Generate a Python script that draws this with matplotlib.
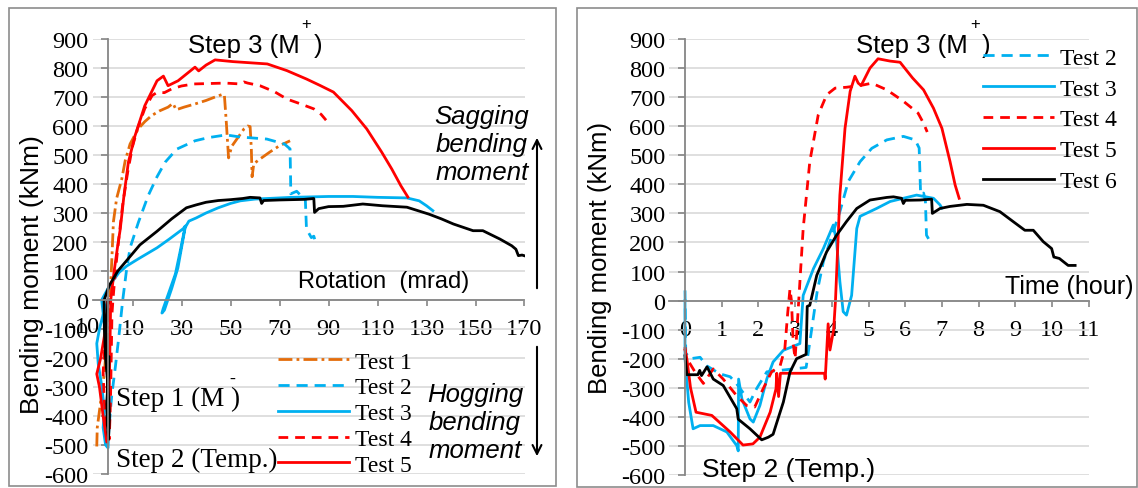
import matplotlib
matplotlib.use("Agg")
import matplotlib.pyplot as plt
from matplotlib.patches import Rectangle

plt.rcParams["axes.unicode_minus"] = False
plt.rcParams["lines.scale_dashes"] = False

W, H = 1138, 489
SANS = "Liberation Sans"
SERIF = "Liberation Serif"

# ---- rotation (mrad) vs moment (kNm) ----
rot_t1 = [-4.6, -4.4, -3.0, -1.5, 0.8, 1.5, 2.2, 3.5, 5.6, 7.0, 9.0, 12.3, 15.0, 17.8, 21.0, 24.5, 26.5,
          27.8, 31.0, 35.5, 40.0, 43.7, 47.0, 47.5, 48.3, 49.2, 50.5, 53.0, 55.5, 57.0, 58.0, 58.5, 58.8,
          59.5, 62.0, 66.0, 70.0, 74.3]
mom_t1 = [-505, -440, -350, -250, 0, 130, 270, 350, 417, 480, 538, 590, 615, 636, 652, 665, 678,
          656, 665, 676, 688, 700, 710, 706, 610, 490, 530, 560, 590, 600, 598, 520, 425,
          470, 486, 510, 532, 549]

rot_t2 = [0.5, 1.5, 3.0, 4.5, 6.0, 7.5, 9.0, 12.4, 16.4, 20.0, 23.3, 28.0, 35.5, 41.0, 46.4, 48.4, 54.0,
          64.8, 72.0, 74.3, 74.5, 74.6, 77.0, 78.5, 80.5, 81.0, 83.0, 84.0, 85.0]
mom_t2 = [-430, -330, -230, -120, 0, 100, 180, 268, 360, 425, 475, 520, 549, 560, 567, 569, 562,
          555, 538, 521, 430, 366, 375, 362, 355, 245, 215, 220, 190]

rot_t3 = [0.0, -2.0, -3.5, -4.6, -4.0, -2.5, -1.5, -2.0, -1.0, 0.0, 0.5, 0.3, -1.0, -2.6, 0.0, 2.0, 4.5,
          7.6, 12.0, 16.0, 20.0, 25.0, 30.7, 31.5, 29.5, 27.5, 25.0, 22.5, 22.0, 23.0, 26.0, 28.5, 30.0,
          31.5, 33.0, 36.0, 40.0, 45.0, 50.0, 54.0, 60.0, 65.0, 75.0, 90.0, 100.0, 110.0, 122.0, 127.0,
          130.0, 132.6]
mom_t3 = [0, -50, -100, -150, -220, -300, -380, -440, -500, -510, -420, -250, -120, 0, 40, 66, 95,
          117, 140, 160, 180, 210, 246, 255, 170, 90, 30, -30, -45, -35, 40, 110, 180,
          250, 272, 283, 300, 318, 333, 342, 348, 350, 354, 357, 357, 354, 352, 342,
          325, 308]

rot_t4 = [0.0, -1.0, -2.0, -1.5, -0.5, 0.5, 1.0, 1.3, 1.6, 2.0, 3.0, 4.5, 6.0, 8.0, 10.0, 12.0, 15.0,
          18.0, 20.0, 23.0, 26.0, 30.0, 35.0, 47.8, 54.0, 55.5, 57.0, 62.0, 68.0, 73.0, 78.0, 84.0,
          87.0, 89.0]
mom_t4 = [0, -120, -250, -350, -450, -480, -350, -200, -50, 0, 100, 220, 330, 440, 530, 590, 660,
          705, 716, 715, 728, 738, 745, 748, 745, 752, 748, 739, 718, 693, 678, 659,
          640, 620]

rot_t5 = [0.0, -1.0, -3.0, -4.6, -3.5, -2.0, -0.5, 0.3, 0.5, 0.8, 1.1, 2.5, 4.0, 5.0, 6.5, 8.3, 11.0,
          15.0, 20.0, 22.6, 24.5, 28.6, 35.5, 37.0, 40.0, 43.7, 51.0, 65.0, 73.0, 81.0, 86.5, 92.0,
          99.5, 105.6, 111.7, 115.8, 119.6, 122.4]
mom_t5 = [0, -100, -200, -255, -300, -400, -490, -440, -300, -150, 0, 100, 190, 245, 360, 475, 566,
          670, 756, 772, 739, 756, 803, 790, 810, 828, 822, 814, 791, 762, 740, 717,
          653, 590, 510, 452, 393, 355]

rot_t6 = [0.0, -0.8, -0.5, 0.4, 0.2, -0.5, -0.3, 0.2, 0.6, 0.0, -1.0, -1.5, -1.6, 0.5, 4.0, 8.0, 13.0,
          20.0, 26.0, 32.0, 36.0, 40.0, 45.0, 50.0, 55.0, 58.0, 62.0, 62.7, 63.5, 70.0, 80.0, 84.0,
          84.3, 86.0, 90.0, 96.0, 104.0, 112.0, 122.0, 131.0, 136.0, 141.0, 149.0, 153.0, 160.0, 164.8,
          166.5, 167.5, 169.0, 171.0]
mom_t6 = [0, -100, -200, -195, -260, -350, -430, -480, -400, -300, -200, -100, 0, 50, 100, 140, 190,
          237, 280, 318, 328, 337, 343, 346, 350, 354, 352, 333, 343, 345, 347, 350,
          302, 315, 322, 323, 331, 325, 320, 296, 280, 262, 239, 239, 210, 187,
          175, 153, 155, 150]

# ---- time (hour) vs moment (kNm) ----
hr_t2 = [0.0, 0.02, 0.14, 0.41, 0.6, 0.95, 1.23, 1.4, 1.77, 1.95, 2.23, 2.59, 2.95, 3.3, 3.45, 3.6,
         3.77, 3.95, 4.22, 4.45, 4.77, 5.09, 5.5, 5.95, 6.27, 6.38, 6.42, 6.5, 6.55, 6.58, 6.68]
hm_t2 = [35, -180, -200, -195, -225, -252, -262, -285, -349, -303, -245, -240, -235, -230, -100, 30,
         134, 203, 306, 410, 478, 524, 553, 565, 553, 525, 365, 370, 345, 225, 203]

hr_t3 = [0.0, 0.0, 0.1, 0.22, 0.41, 0.77, 1.14, 1.41, 1.45, 1.46, 1.55, 1.77, 1.86, 2.04, 2.23, 2.4,
         2.68, 3.13, 3.22, 3.5, 3.77, 4.04, 4.13, 4.22, 4.31, 4.4, 4.54, 4.68, 4.77, 5.22, 5.59, 6.31,
         6.77, 6.95, 7.0]
hm_t3 = [0, -200, -350, -441, -430, -430, -452, -499, -517, -270, -338, -407, -418, -361, -269, -211,
         -171, -148, 18, 110, 179, 260, 203, 65, -38, -50, 18, 248, 290, 317, 341, 363,
         352, 329, 318]

hr_t4 = [0.0, 0.03, 0.27, 0.5, 0.77, 1.04, 1.4, 1.68, 1.9, 2.13, 2.36, 2.59, 2.72, 2.8, 2.86, 2.9,
         2.95, 3.0, 3.05, 3.22, 3.4, 3.63, 3.86, 4.09, 4.4, 4.86, 5.09, 5.5, 5.95, 6.35, 6.5, 6.6]
hm_t4 = [-160, -195, -245, -285, -235, -270, -326, -361, -366, -303, -245, -225, -165, -40, 40, 0,
         -150, -200, -100, 248, 478, 639, 708, 731, 734, 742, 748, 725, 686, 645, 610, 580]

hr_t5 = [0.0, 0.05, 0.15, 0.3, 0.73, 1.23, 1.58, 1.85, 2.04, 2.32, 2.48, 2.5, 2.55, 2.6, 3.8, 3.82,
         3.9, 3.95, 4.05, 4.1, 4.22, 4.36, 4.5, 4.63, 4.72, 4.8, 5.04, 5.26, 5.59, 5.86, 6.2, 6.5,
         6.77, 7.0, 7.22, 7.36, 7.47]
hm_t5 = [-170, -200, -300, -384, -395, -452, -497, -493, -470, -384, -303, -250, -330, -250, -250, -270,
         -80, -170, -100, 0, 363, 593, 720, 772, 748, 740, 800, 832, 824, 820, 766, 725,
         662, 593, 479, 398, 352]

hr_t6 = [0.0, 0.05, 0.35, 0.4, 0.45, 0.6, 0.77, 1.04, 1.41, 1.45, 1.77, 2.09, 2.27, 2.4, 2.5, 2.68,
         2.86, 3.04, 3.3, 3.33, 3.4, 3.59, 3.86, 4.13, 4.4, 4.68, 5.04, 5.5, 5.68, 5.9, 5.95, 6.0,
         6.4, 6.72, 6.74, 6.95, 7.22, 7.68, 8.13, 8.58, 8.94, 9.26, 9.49, 9.76, 9.99, 10.05, 10.2,
         10.44, 10.63]
hm_t6 = [-190, -255, -255, -240, -258, -228, -270, -292, -372, -408, -441, -479, -470, -460, -420, -349,
         -246, -200, -185, -20, -16, 87, 168, 225, 272, 317, 346, 355, 357, 352, 334, 345,
         346, 349, 300, 317, 324, 331, 328, 306, 272, 242, 242, 203, 179, 150, 145,
         121, 121]

y_ticks = list(range(-600, 901, 100))
rot_ticks = list(range(10, 171, 20))
hr_ticks = list(range(0, 12))

ORANGE = "#e46c0a"
BLUE = "#00b0f0"
RED = "#ff0000"

styles = {
    "Test 1": dict(color=ORANGE, dashes=[10, 3, 2, 3]),
    "Test 2": dict(color=BLUE, dashes=[8, 5]),
    "Test 3": dict(color=BLUE),
    "Test 4": dict(color=RED, dashes=[7, 5]),
    "Test 5": dict(color=RED),
    "Test 6": dict(color="black"),
}
LW = 2.0
TICK_SIZE = 17.5


def fx(px):
    return px / W


def fy(py):
    return 1 - py / H


def style_axes(ax):
    for s in ("top", "right"):
        ax.spines[s].set_visible(False)
    for s in ("left", "bottom"):
        ax.spines[s].set_position(("data", 0))
        ax.spines[s].set_color("#868686")
        ax.spines[s].set_linewidth(1.3)
    ax.set_ylim(-600, 900)
    ax.set_yticks(y_ticks)
    ax.yaxis.grid(True, color="#d9d9d9", lw=1.2)
    ax.set_axisbelow(True)
    ax.tick_params(axis="y", direction="out", length=5, width=1.2, color="#868686", pad=9,
                   labelsize=TICK_SIZE)
    ax.tick_params(axis="x", direction="out", length=4, width=1.2, color="#868686", pad=9,
                   labelsize=TICK_SIZE)
    for lab in ax.get_xticklabels() + ax.get_yticklabels():
        lab.set_fontfamily(SERIF)


fig = plt.figure(figsize=(W / 100, H / 100), dpi=100)

# left: moment vs rotation
ax1 = fig.add_axes([fx(92.6), fy(475), fx(524.5) - fx(92.6), fy(40) - fy(475)])
ax1.set_xlim(-6.3, 170)
ax1.set_xticks(rot_ticks)
h1 = []
for name, xs, ys in [("Test 1", rot_t1, mom_t1), ("Test 2", rot_t2, mom_t2),
                     ("Test 3", rot_t3, mom_t3), ("Test 4", rot_t4, mom_t4),
                     ("Test 5", rot_t5, mom_t5)]:
    ln, = ax1.plot(xs, ys, lw=LW, label=name, **styles[name])
    h1.append(ln)
ax1.plot(rot_t6, mom_t6, lw=LW, **styles["Test 6"])
style_axes(ax1)
# first rotation tick sits left of the plotting area
ax1.text(-10, -92, "-10", ha="center", va="center", fontsize=TICK_SIZE, family=SERIF,
         clip_on=False)

# right: moment vs time
ax2 = fig.add_axes([fx(668.5), fy(476), fx(1088.7) - fx(668.5), fy(40) - fy(476)])
ax2.set_xlim(-0.45, 11)
ax2.set_xticks(hr_ticks)
h2 = []
for name, xs, ys in [("Test 2", hr_t2, hm_t2), ("Test 3", hr_t3, hm_t3),
                     ("Test 4", hr_t4, hm_t4), ("Test 5", hr_t5, hm_t5),
                     ("Test 6", hr_t6, hm_t6)]:
    ln, = ax2.plot(xs, ys, lw=LW, label=name, **styles[name])
    h2.append(ln)
style_axes(ax2)

# legends
leg_kw = dict(loc="upper left", frameon=False, borderpad=0, borderaxespad=0,
              handlelength=3.0, handletextpad=0.25, prop={"family": SERIF, "size": 17})
fig.legend(handles=h1, bbox_to_anchor=(fx(278), fy(352)), labelspacing=0.18, **leg_kw)
fig.legend(handles=h2, bbox_to_anchor=(fx(983), fy(48)), labelspacing=0.4, **leg_kw)

# axis titles
fig.text(fx(32), fy(275), "Bending moment (kNm)", rotation=90, ha="center", va="center",
         family=SANS, fontsize=19)
fig.text(fx(600), fy(258), "Bending moment (kNm)", rotation=90, ha="center", va="center",
         family=SANS, fontsize=18.5)
fig.text(fx(298), fy(282), "Rotation  (mrad)", ha="left", va="center", family=SANS, fontsize=17)
fig.text(fx(1005), fy(287), "Time (hour)", ha="left", va="center", family=SANS, fontsize=18)

# load step annotations
fig.text(fx(188), fy(46), "Step 3 (M  )", ha="left", va="center", family=SANS, fontsize=18.5)
fig.text(fx(306), fy(24), "+", ha="center", va="center", family=SANS, fontsize=12)
fig.text(fx(856), fy(46), "Step 3 (M  )", ha="left", va="center", family=SANS, fontsize=18.5)
fig.text(fx(975), fy(25), "+", ha="center", va="center", family=SANS, fontsize=12)
fig.text(fx(116), fy(399), "Step 1 (M )", ha="left", va="center", family=SERIF, fontsize=19.5)
fig.text(fx(232), fy(379), "-", ha="center", va="center", family=SERIF, fontsize=13)
fig.text(fx(116), fy(460), "Step 2 (Temp.)", ha="left", va="center", family=SERIF, fontsize=19.5)
fig.text(fx(702), fy(470), "Step 2 (Temp.)", ha="left", va="center", family=SANS, fontsize=19)

fig.text(fx(482), fy(145), "Sagging\nbending\nmoment", ha="center", va="center", family=SANS,
         style="italic", fontsize=18.5, linespacing=1.2)
fig.text(fx(475), fy(423), "Hogging\nbending\nmoment", ha="center", va="center", family=SANS,
         style="italic", fontsize=18.5, linespacing=1.22)

arrow = dict(arrowstyle="->", lw=1.5, color="black", mutation_scale=16)
ax1.annotate("", xy=(fx(537), fy(136)), xytext=(fx(537), fy(292)), xycoords="figure fraction",
             textcoords="figure fraction", arrowprops=arrow)
ax1.annotate("", xy=(fx(537), fy(460)), xytext=(fx(537), fy(345)), xycoords="figure fraction",
             textcoords="figure fraction", arrowprops=arrow)

# chart borders
for x0, y0, x1, y1 in [(9, 9, 556, 487), (577, 9, 1137, 488)]:
    fig.add_artist(Rectangle((fx(x0), fy(y1)), fx(x1) - fx(x0), fy(y0) - fy(y1),
                             transform=fig.transFigure, fill=False, ec="#8c8c8c", lw=1.2))

fig.savefig("out.png", dpi=100)
